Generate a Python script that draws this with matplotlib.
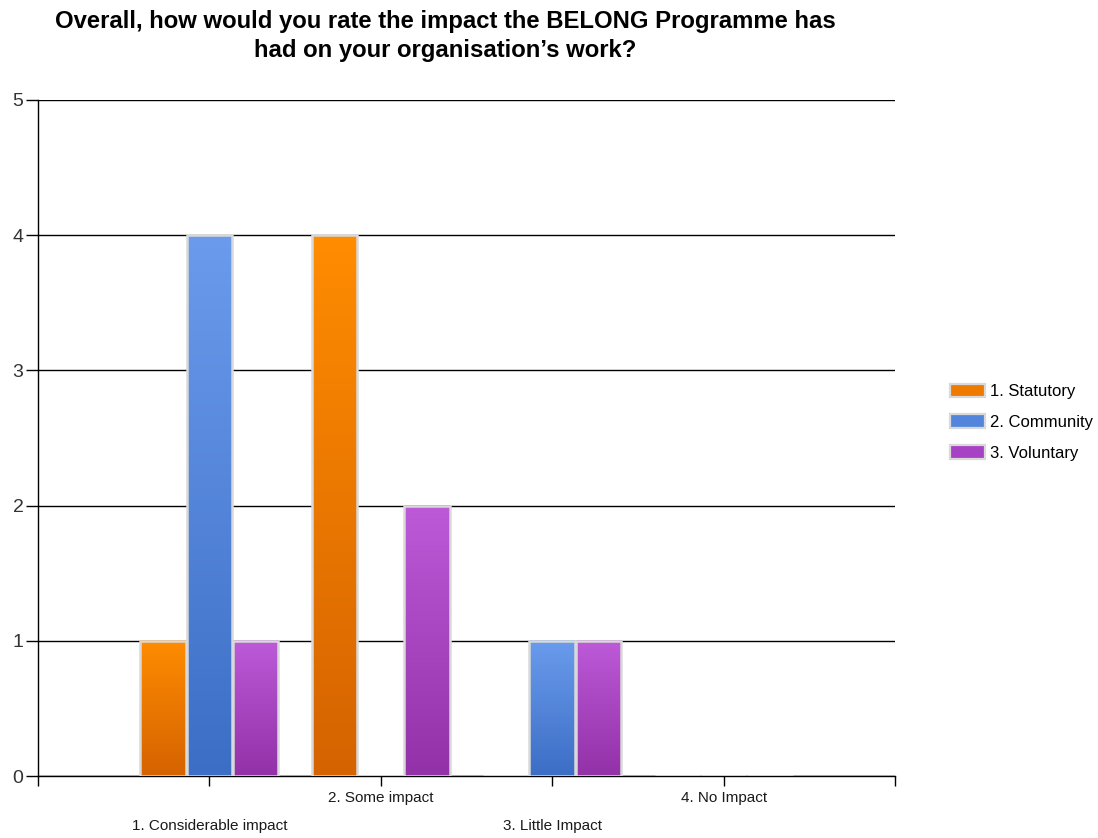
import numpy as np
import matplotlib
matplotlib.use("Agg")
import matplotlib.pyplot as plt
from matplotlib.colors import to_rgb
from matplotlib.patches import Patch

plt.rcParams["font.family"] = ["Liberation Sans", "DejaVu Sans"]

# ---------------------------------------------------------------------------
# Data
# ---------------------------------------------------------------------------
categories = ["1. Considerable impact", "2. Some impact", "3. Little Impact", "4. No Impact"]
series_names = ["1. Statutory", "2. Community", "3. Voluntary"]
statutory = [1, 4, 0, 0]
community = [4, 0, 1, 0]
voluntary = [1, 2, 1, 0]

# (top colour, bottom colour) per series
GRADIENTS = [
    ("#FF8C00", "#D56300"),
    ("#6A9BEC", "#3C6EC6"),
    ("#BC5AD8", "#9331A8"),
]
LEGEND_COLOURS = ["#EE7A00", "#5485DC", "#A842C4"]
EDGE = "#D9D9D9"

fig = plt.figure(figsize=(10.98, 8.38), dpi=100)
ax = fig.add_axes([38 / 1098, 1 - 776 / 838, (895 - 38) / 1098, (776 - 100) / 838])

width = 0.265
offsets = [-0.27, 0.0, 0.27]
xpos = np.arange(1, len(categories) + 1)


def gradient_bar(ax, x, h, top, bottom):
    if h <= 0:
        return
    t = np.linspace(0, 1, 128)[:, None]
    c0 = np.array(to_rgb(bottom))
    c1 = np.array(to_rgb(top))
    img = (c0 * (1 - t) + c1 * t)[:, None, :]
    ax.imshow(img, extent=(x - width / 2, x + width / 2, 0, h), origin="lower",
              aspect="auto", interpolation="bilinear", zorder=2)


for vals, off, (top, bottom) in zip([statutory, community, voluntary], offsets, GRADIENTS):
    for x, v in zip(xpos + off, vals):
        gradient_bar(ax, x, v, top, bottom)
    ax.bar(xpos + off, vals, width=width, fill=False, edgecolor=EDGE,
           linewidth=1.8, zorder=3)

ax.set_xlim(0, 5)
ax.set_ylim(0, 5)

# gridlines
ax.set_yticks(range(0, 6))
ax.yaxis.grid(True, color="black", linewidth=1.0, zorder=1)
ax.set_axisbelow(True)
ax.tick_params(axis="y", length=8.5, width=1, labelsize=14, labelcolor="#333333",
               color="black", pad=2)

ax.set_xticks(range(0, 6))
ax.set_xticklabels([])
ax.tick_params(axis="x", length=7, width=1, direction="out")

for s in ("top", "right"):
    ax.spines[s].set_visible(False)
for s in ("left", "bottom"):
    ax.spines[s].set_linewidth(1.0)
    ax.spines[s].set_color("black")

# staggered category labels
for i, (x, lab) in enumerate(zip(xpos, categories)):
    dy = -36 if i % 2 == 0 else -16
    ax.annotate(lab, xy=(x, 0), xycoords=("data", "axes fraction"),
                xytext=(0, dy), textcoords="offset points",
                ha="center", va="center", fontsize=11, color="#1a1a1a")

fig.text(445 / 1098, 1 - 36 / 838,
         "Overall, how would you rate the impact the BELONG Programme has\nhad on your organisation\u2019s work?",
         ha="center", va="center", fontsize=17.2, fontweight="bold", linespacing=1.3)

handles = [Patch(facecolor=c, edgecolor=EDGE, linewidth=1.6) for c in LEGEND_COLOURS]
fig.legend(handles, series_names, loc="center left",
           bbox_to_anchor=(935 / 1098, 1 - 422 / 838), frameon=False,
           fontsize=12, handlelength=2.1, handleheight=0.9,
           labelspacing=0.9, handletextpad=0.3)

fig.savefig("out.png", dpi=100)
